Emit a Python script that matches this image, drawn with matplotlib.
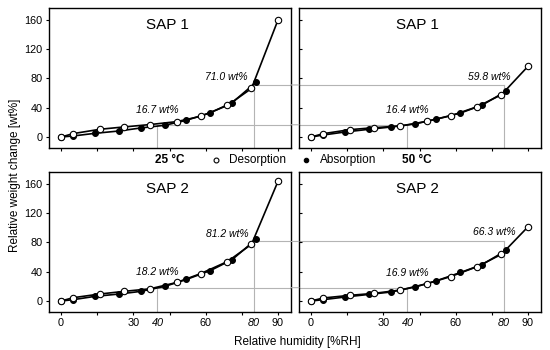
import matplotlib
matplotlib.use("Agg")
import matplotlib.pyplot as plt
from matplotlib.patches import ConnectionPatch
from matplotlib.lines import Line2D

plt.rcParams['font.family'] = ['Liberation Sans', 'DejaVu Sans']

# relative humidity [%RH] and weight change [wt%]
rh_des = [0, 5, 16, 26, 37, 48, 58, 69, 79, 90]
rh_abs = [0, 5, 14, 24, 33, 43, 52, 62, 71, 81]

sap1_25_des = [0, 4.6, 10.5, 13.7, 17.0, 21.0, 28.3, 43.0, 66.2, 159.6]
sap1_25_abs = [0, 1.4, 5.0, 8.2, 12.3, 16.0, 22.8, 33.2, 46.9, 75.0]
sap1_50_des = [0, 4.5, 10.0, 12.7, 15.0, 21.4, 29.0, 41.4, 57.7, 96.4]
sap1_50_abs = [0, 2.7, 6.8, 10.5, 13.6, 17.7, 24.5, 32.7, 43.6, 62.7]
sap2_25_des = [0, 4.5, 9.5, 13.1, 16.7, 25.3, 37.5, 53.8, 77.3, 163.2]
sap2_25_abs = [0, 1.8, 6.3, 9.5, 13.1, 19.9, 29.4, 41.6, 56.5, 84.5]
sap2_50_des = [0, 4.1, 7.7, 10.4, 14.9, 23.5, 33.4, 47.0, 63.7, 101.2]
sap2_50_abs = [0, 1.8, 5.4, 9.0, 12.2, 19.0, 27.6, 38.9, 49.7, 69.2]

titles = ['SAP 1', 'SAP 1', 'SAP 2', 'SAP 2']
labels_40 = ['16.7 wt%', '16.4 wt%', '18.2 wt%', '16.9 wt%']
labels_80 = ['71.0 wt%', '59.8 wt%', '81.2 wt%', '66.3 wt%']
lab40_pos = [(40, 37), (40, 36.5), (40, 39), (40, 38)]
lab80_pos = [(68.5, 82), (74, 82.5), (69, 91), (76, 93.5)]
# levels of the grey guide lines (25 °C values)
guide_levels = [(16.7, 71.0), (18.2, 81.2)]

xticks = [0, 15, 30, 45, 60, 75, 90]
xticklabels = ['0', '', '30', '', '60', '', '90']
yticks = [0, 40, 80, 120, 160]

fig = plt.figure(figsize=(5.5, 3.5), dpi=100)
axes = [
    fig.add_axes([49/550, 1-148/350, 242/550, 140/350]),
    fig.add_axes([299/550, 1-148/350, 242/550, 140/350]),
    fig.add_axes([49/550, 1-312/350, 242/550, 140/350]),
    fig.add_axes([299/550, 1-312/350, 242/550, 140/350]),
]
series = [(sap1_25_des, sap1_25_abs), (sap1_50_des, sap1_50_abs),
          (sap2_25_des, sap2_25_abs), (sap2_50_des, sap2_50_abs)]

xmin, xmax = -5, 95.4
ymin, ymax = -15, 176
grey = '#b4b4b4'

for i, ax in enumerate(axes):
    des, ab = series[i]
    ax.plot(rh_abs, ab, '-', color='black', lw=1.2, marker='o', ms=4.2,
            mfc='black', mec='black', mew=0.8, zorder=3)
    ax.plot(rh_des, des, '-', color='black', lw=1.2, marker='o', ms=4.6,
            mfc='white', mec='black', mew=0.8, zorder=4)
    ax.set_xlim(xmin, xmax)
    ax.set_ylim(ymin, ymax)
    ax.set_xticks(xticks)
    ax.set_yticks(yticks)
    for s in ax.spines.values():
        s.set_linewidth(1.0)
    ax.tick_params(labelsize=7.8, length=2.5, width=0.8, pad=2)
    if i in (1, 3):
        ax.tick_params(axis='y', direction='in', labelleft=False)
    if i in (0, 1):
        ax.set_xticklabels([])
    else:
        ax.set_xticklabels(xticklabels)
        for xv in (40, 80):
            ax.text(xv, -0.075, str(xv), transform=ax.get_xaxis_transform(),
                    ha='center', va='center', fontsize=7.8, style='italic')
    ax.text(0.49, 0.88, titles[i], transform=ax.transAxes, ha='center',
            va='center', fontsize=11)
    ax.text(*lab40_pos[i], labels_40[i], ha='center', va='center',
            fontsize=7.5, style='italic')
    ax.text(*lab80_pos[i], labels_80[i], ha='center', va='center',
            fontsize=7.5, style='italic')

# grey guide lines connecting the 25 °C and 50 °C panels
for row, (lo, hi) in enumerate(guide_levels):
    left, right = axes[2*row], axes[2*row + 1]
    for xv, lev in ((40, lo), (80, hi)):
        for ax in (left, right):
            ax.plot([xv, xv], [ymin, lev], color=grey, lw=0.8, zorder=1)
        left.plot([xv, xmax], [lev, lev], color=grey, lw=0.8, zorder=1)
        right.plot([xmin, xv], [lev, lev], color=grey, lw=0.8, zorder=1)
        # bridge across the gap between the panels
        con = ConnectionPatch(xyA=(xmax, lev), coordsA=left.transData,
                              xyB=(xmin, lev), coordsB=right.transData,
                              color=grey, lw=0.8, zorder=5)
        fig.add_artist(con)

# legend row
ly = 1 - 160/350
fig.text(170/550, ly, '25 °C', ha='center', va='center', fontsize=8.5,
         fontweight='bold')
fig.add_artist(Line2D([216/550], [ly], transform=fig.transFigure, marker='o',
                      ms=3.5, mfc='white', mec='black', mew=0.8, ls='none'))
fig.text(229/550, ly, 'Desorption', ha='left', va='center', fontsize=8.5)
fig.add_artist(Line2D([306/550], [ly], transform=fig.transFigure, marker='o',
                      ms=3.2, mfc='black', mec='black', mew=0.8, ls='none'))
fig.text(320/550, ly, 'Absorption', ha='left', va='center', fontsize=8.5)
fig.text(417/550, ly, '50 °C', ha='center', va='center', fontsize=8.5,
         fontweight='bold')

fig.text(15/550, 0.5, 'Relative weight change [wt%]', rotation=90,
         ha='center', va='center', fontsize=8.5)
fig.text(297/550, 1 - 342/350, 'Relative humidity [%RH]', ha='center',
         va='center', fontsize=8.5)

fig.savefig('out.png', dpi=100)
